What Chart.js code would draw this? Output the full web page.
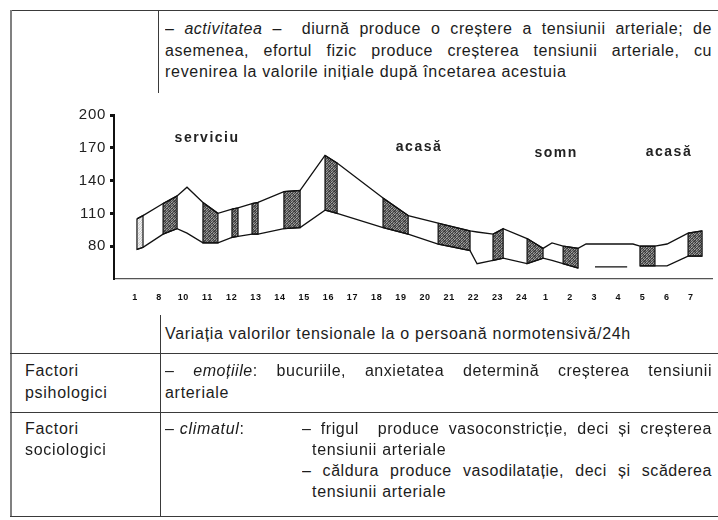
<!DOCTYPE html>
<html>
<head>
<meta charset="utf-8">
<script src="https://cdn.jsdelivr.net/npm/chart.js@4.4.1/dist/chart.umd.min.js"></script>
<style>
  body { margin: 0; width: 718px; height: 520px; overflow: hidden; background: #fff; }
  .page { position: relative; width: 718px; height: 520px; font-family: "Liberation Sans", Arial, sans-serif;
          font-size: 16px; color: #1c1c1c; letter-spacing: 0.7px; }
  .ln { position: absolute; height: 21px; line-height: 21px; white-space: nowrap; }
  .jf { text-align: justify; text-align-last: justify; letter-spacing: 0.55px; white-space: normal; overflow: hidden; }
  .hr { position: absolute; height: 0; border-top: 1.5px solid #3a3a3a; }
  .vr { position: absolute; width: 0; border-left: 1.5px solid #3a3a3a; }
  #chartBox { position: absolute; left: 14px; top: 96px; }
</style>
</head>
<body>
<div class="page">
  <div class="hr" style="left:10px; top:10px; width:708px;"></div>
  <div class="vr" style="left:10px; top:10px; height:507px; border-left:2px solid #808080;"></div>
  <div class="vr" style="left:158px; top:10px; height:83px;"></div>

  <div class="ln jf" style="left:165px; top:18px; width:547px;">– <i>activitatea</i> –&nbsp; diurnă produce o creștere a tensiunii arteriale; de</div>
  <div class="ln jf" style="left:165px; top:40px; width:547px;">asemenea, efortul fizic produce creșterea tensiunii arteriale, cu</div>
  <div class="ln" style="left:165px; top:61px;">revenirea la valorile inițiale după încetarea acestuia</div>

  <canvas id="chartBox" width="704" height="224"></canvas>

  <div class="vr" style="left:160px; top:315px; height:202px;"></div>
  <div class="ln" style="left:165px; top:323px;">Variația valorilor tensionale la o persoană normotensivă/24h</div>

  <div class="hr" style="left:10px; top:353px; width:708px;"></div>
  <div class="ln" style="left:25px; top:360px;">Factori</div>
  <div class="ln" style="left:25px; top:382px;">psihologici</div>
  <div class="ln jf" style="left:165px; top:360px; width:547px;">– <i>emoțiile</i>: bucuriile, anxietatea determină creșterea tensiunii</div>
  <div class="ln" style="left:165px; top:382px;">arteriale</div>

  <div class="hr" style="left:10px; top:412px; width:708px;"></div>
  <div class="ln" style="left:25px; top:418px;">Factori</div>
  <div class="ln" style="left:25px; top:439px;">sociologici</div>
  <div class="ln" style="left:165px; top:418px;">– <i>climatul</i>:</div>
  <div class="ln jf" style="left:302px; top:418px; width:410px;">– frigul&nbsp; produce vasoconstricție, deci și creșterea</div>
  <div class="ln" style="left:312px; top:439px;">tensiunii arteriale</div>
  <div class="ln jf" style="left:302px; top:460px; width:410px;">– căldura produce vasodilatație, deci și scăderea</div>
  <div class="ln" style="left:312px; top:481px;">tensiunii arteriale</div>
  <div class="hr" style="left:10px; top:516px; width:708px;"></div>
</div>

<script>
// ore (etichete axa X) si valori (axa Y)
const hours = ['1', '8', '10', '11', '12', '13', '14', '15', '16', '17', '18', '19',
               '20', '21', '22', '23', '24', '1', '2', '3', '4', '5', '6', '7'];
const yTicks = [80, 110, 140, 170, 200];

// conturul benzii: pozitie pe axa orelor, tensiune sistolica / diastolica
const bandX = [0.08, 0.33, 1.16, 1.74, 2.15, 2.81, 3.43, 4.01, 4.26, 4.84, 5.09, 6.16,
               6.83, 7.86, 8.36, 10.26, 11.30, 12.54, 13.86, 14.15, 14.81, 15.23, 16.22, 16.88,
               17.25, 17.71, 18.33, 18.66, 19.03, 20.36, 20.60, 20.89, 21.51, 22.01, 22.88, 23.46];
const systolic = [105, 108, 119, 126, 134, 120, 110, 114, 115, 119, 120, 130,
                  131, 163, 156, 124, 108, 101, 94, 93, 91, 96, 87, 78,
                  83, 80, 78, 82, 82, 82, 82, 80, 80, 82, 92, 94];
const diastolic = [77, 79, 91, 96, 92, 83, 83, 88, 89, 91, 91, 96,
                   97, 113, 110, 97, 91, 82, 76, 64, 67, 69, 64, 69,
                   67, 64, 60, null, 61, 61, null, 62, 62, 62, 71, 71];

// intervalele hasurate
const darkBoxes = [[1.16, 1.74], [2.81, 3.43], [4.01, 4.26], [4.84, 5.09], [6.16, 6.83],
                   [7.86, 8.36], [10.26, 11.30], [12.54, 13.86], [14.81, 15.23], [16.22, 16.88],
                   [17.71, 18.33], [20.89, 21.51], [22.88, 23.46]];
const lightBoxes = [[0.08, 0.33]];

// etichetele perioadelor
const regionNames = ['serviciu', 'acasă', 'somn', 'acasă'];
const regionX = [2.98, 11.75, 17.42, 22.09];
const regionY = [179, 170.5, 165, 166];

// textura punctata (ca in scan)
function stipple(levels, n) {
    const c = document.createElement('canvas');
    c.width = n;
    c.height = n;
    const g = c.getContext('2d');
    levels.forEach((v, i) => {
        g.fillStyle = 'rgb(' + v + ',' + v + ',' + v + ')';
        g.fillRect(i % n, Math.floor(i / n), 1, 1);
    });
    return g.createPattern(c, 'repeat');
}

const darkFill = stipple([60, 110, 80, 150, 70,
                          130, 50, 170, 90, 100,
                          80, 140, 70, 60, 160,
                          170, 90, 110, 140, 50,
                          70, 60, 150, 80, 120], 5);
const lightFill = stipple([235, 205, 245, 215, 240,
                           215, 245, 195, 235, 225,
                           240, 210, 230, 245, 200,
                           200, 235, 220, 205, 245,
                           230, 245, 200, 240, 215], 5);

function boxShape(range) {
    const idx = bandX.map((x, i) => i).filter(i => bandX[i] >= range[0] && bandX[i] <= range[1]);
    const top = idx.map(i => ({ x: bandX[i], y: systolic[i] }));
    const bottom = idx.slice().reverse().map(i => ({ x: bandX[i], y: diastolic[i] }));
    return top.concat(bottom, [top[0]]);
}

function boxDataset(range, fill) {
    return {
        data: boxShape(range),
        fill: 'shape',
        backgroundColor: fill,
        borderColor: '#111',
        borderWidth: 1.2,
        pointRadius: 0,
        tension: 0
    };
}

const regionLabels = {
    id: 'regionLabels',
    afterDatasetsDraw(chart) {
        const { ctx, scales: { x, y } } = chart;
        ctx.save();
        ctx.font = 'bold 14px "Liberation Sans", Arial, sans-serif';
        ctx.letterSpacing = '1.5px';
        ctx.fillStyle = '#222';
        ctx.textAlign = 'center';
        ctx.textBaseline = 'middle';
        regionNames.forEach((t, i) => {
            ctx.fillText(t, x.getPixelForValue(regionX[i]), y.getPixelForValue(regionY[i]));
        });
        ctx.restore();
    }
};

Chart.defaults.font.family = '"Liberation Sans", Arial, sans-serif';

const datasets = [
    {
        data: bandX.map((x, i) => ({ x, y: systolic[i] })),
        borderColor: '#111', borderWidth: 1.3, pointRadius: 0, fill: false, tension: 0
    },
    {
        data: bandX.map((x, i) => ({ x, y: diastolic[i] })),
        borderColor: '#111', borderWidth: 1.3, pointRadius: 0, fill: false, tension: 0, spanGaps: false
    }
]
    .concat(lightBoxes.map(r => boxDataset(r, lightFill)))
    .concat(darkBoxes.map(r => boxDataset(r, darkFill)));

new Chart(document.getElementById('chartBox'), {
    type: 'line',
    data: { datasets },
    options: {
        responsive: false,
        devicePixelRatio: 1,
        animation: false,
        layout: { padding: { top: 19, right: 6, left: 0, bottom: 0 } },
        plugins: { legend: { display: false }, tooltip: { enabled: false } },
        scales: {
            x: {
                type: 'linear',
                min: -0.87,
                max: 23.87,
                afterBuildTicks: s => { s.ticks = hours.map((h, i) => ({ value: i })); },
                afterFit: s => { s.height = 41; },
                grid: { display: false, drawTicks: false },
                border: { display: true, color: '#555', width: 1.2 },
                ticks: {
                    autoSkip: false,
                    maxRotation: 0,
                    padding: 13,
                    color: '#111',
                    font: { size: 9, weight: 'bold' },
                    callback: v => hours[Math.round(v)]
                }
            },
            y: {
                min: 50,
                max: 200,
                afterBuildTicks: s => { s.ticks = yTicks.map(v => ({ value: v })); },
                afterFit: s => { s.width = 100; },
                grid: { drawOnChartArea: false, drawTicks: true, tickLength: 4, tickWidth: 3, tickColor: '#111' },
                border: { display: true, color: '#111', width: 2 },
                ticks: { padding: 4, color: '#222', font: { size: 15 } }
            }
        }
    },
    plugins: [regionLabels]
});
</script>
</body>
</html>
